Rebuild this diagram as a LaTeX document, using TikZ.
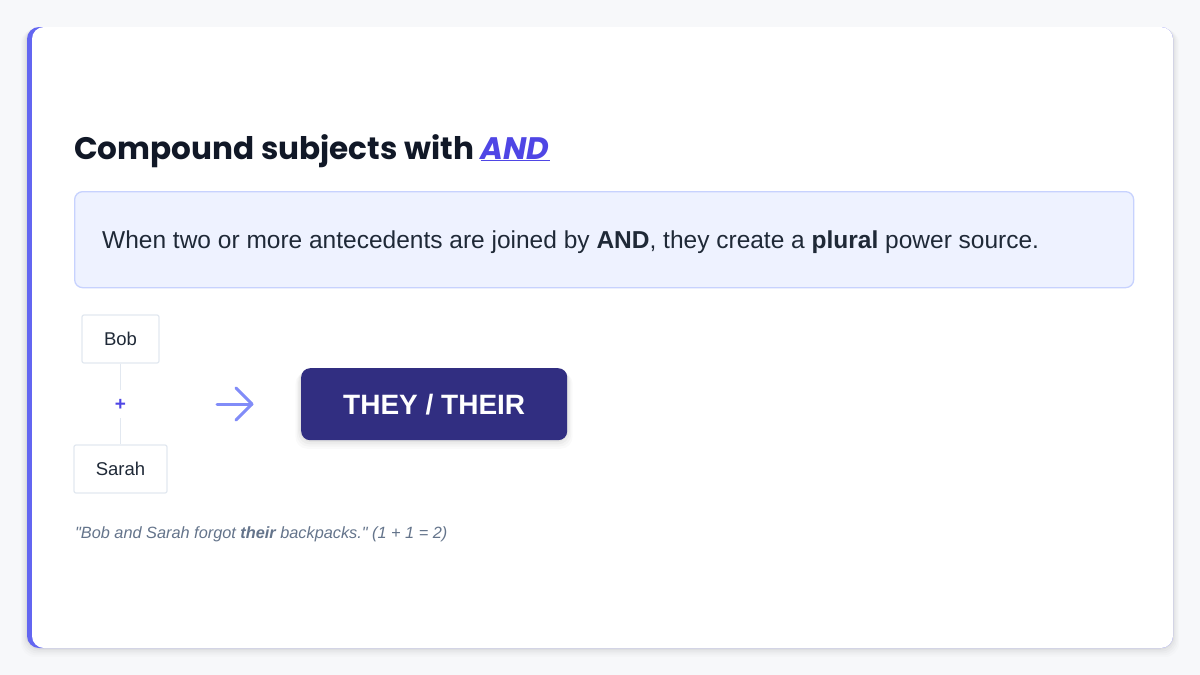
\documentclass[tikz,border=0pt]{standalone}
\usepackage{fontspec}
\setmainfont{Liberation Sans}
\newfontfamily\titlefont{Poppins}
\newfontfamily\capfont{Liberation Sans}[Ligatures=TeXOff]
\usetikzlibrary{arrows.meta}
\definecolor{pagebg}{HTML}{F7F8FA}
\definecolor{accent}{HTML}{6366F1}
\definecolor{inkdark}{HTML}{111827}
\definecolor{textdark}{HTML}{1F2937}
\definecolor{andcol}{HTML}{4F46E5}
\definecolor{notebg}{HTML}{EEF2FF}
\definecolor{noteborder}{HTML}{C7D2FE}
\definecolor{boxborder}{HTML}{E2E8F0}
\definecolor{arrowcol}{HTML}{818CF8}
\definecolor{pillbg}{HTML}{312E81}
\definecolor{captioncol}{HTML}{64748B}
\tikzset{
  namebox/.style={draw=boxborder, line width=1.2pt, fill=white, rounded corners=2pt, font=\fontsize{18.5}{20}\selectfont, text=textdark, inner sep=0pt},
  joinline/.style={draw=boxborder, line width=1.2pt},
  pill/.style={fill=pillbg, rounded corners=9pt, text=white, font=\fontsize{28}{30}\selectfont\bfseries, inner sep=0pt, minimum width=266pt, minimum height=72pt}
}
\begin{document}
\begin{tikzpicture}[x=1pt,y=-1pt]
\useasboundingbox (0,0) rectangle (1200,675);
\fill[pagebg] (0,0) rectangle (1200,675);
% card shadow
\foreach \i/\o in {10/0.012,8/0.015,6/0.02,4/0.025,2/0.03}{
  \fill[black,opacity=\o,rounded corners=14pt] (27-\i*0.6,27+\i*0.2) rectangle (1173+\i*0.6,648+\i*0.9);
}
% card
\fill[accent,rounded corners=12pt] (27,27) rectangle (1173,648);
\fill[white,rounded corners=12pt] (32,27) rectangle (1173,648);
\fill[white] (32,40) rectangle (45,635);
% title
\node[anchor=base west, inner sep=0pt, text=inkdark, font=\titlefont\fontsize{31.1}{33}\selectfont\bfseries] (title) at (74,159)
  {Compound subjects with \textcolor{andcol}{\itshape\underline{AND}}};
% note box
\node[draw=noteborder, fill=notebg, line width=1.3pt, rounded corners=8pt, minimum width=1059pt, minimum height=96pt, anchor=north west, inner sep=0pt] (note) at (74,191) {};
\node[anchor=base west, inner sep=0pt, text=textdark, font=\fontsize{24.5}{26}\selectfont] (notetext) at (102,248)
  {When two or more antecedents are joined by \textbf{AND}, they create a \textbf{plural} power source.};
% name boxes
\node[namebox, minimum width=77pt, minimum height=48pt] (bob) at (120.5,339) {Bob};
\node[namebox, minimum width=93pt, minimum height=48pt] (sarah) at (120.5,469) {Sarah};
\node[text=andcol, font=\fontsize{19}{20}\selectfont\bfseries, inner sep=0pt] (plus) at (120.5,405) {+};
\coordinate (p1) at (120.5,390);
\coordinate (p2) at (120.5,418);
\draw[joinline] (bob.south) -- (p1);
\draw[joinline] (p2) -- (sarah.north);
% arrow
\coordinate (a1) at (217,404);
\coordinate (a2) at (252,404);
\draw[arrowcol, line width=3pt, line cap=round] (a1) -- (a2);
\draw[arrowcol, line width=3pt, line cap=round, line join=round] (236,388) -- (252,404) -- (236,420);
% pill shadow
\foreach \i/\o in {8/0.02,6/0.025,4/0.03,2/0.04}{
  \fill[black,opacity=\o,rounded corners=12pt] (301-\i*0.7,368+\i*0.5) rectangle (567+\i*0.7,440+\i*1.1);
}
\node[pill, anchor=north west] (pill) at (301,368) {THEY / THEIR};
% caption
\node[anchor=base west, inner sep=0pt, text=captioncol, font=\capfont\fontsize{16.3}{18}\selectfont\itshape] (caption) at (75,538)
  {"Bob and Sarah forgot \textbf{their} backpacks." (1 + 1 = 2)};
\end{tikzpicture}
\end{document}
